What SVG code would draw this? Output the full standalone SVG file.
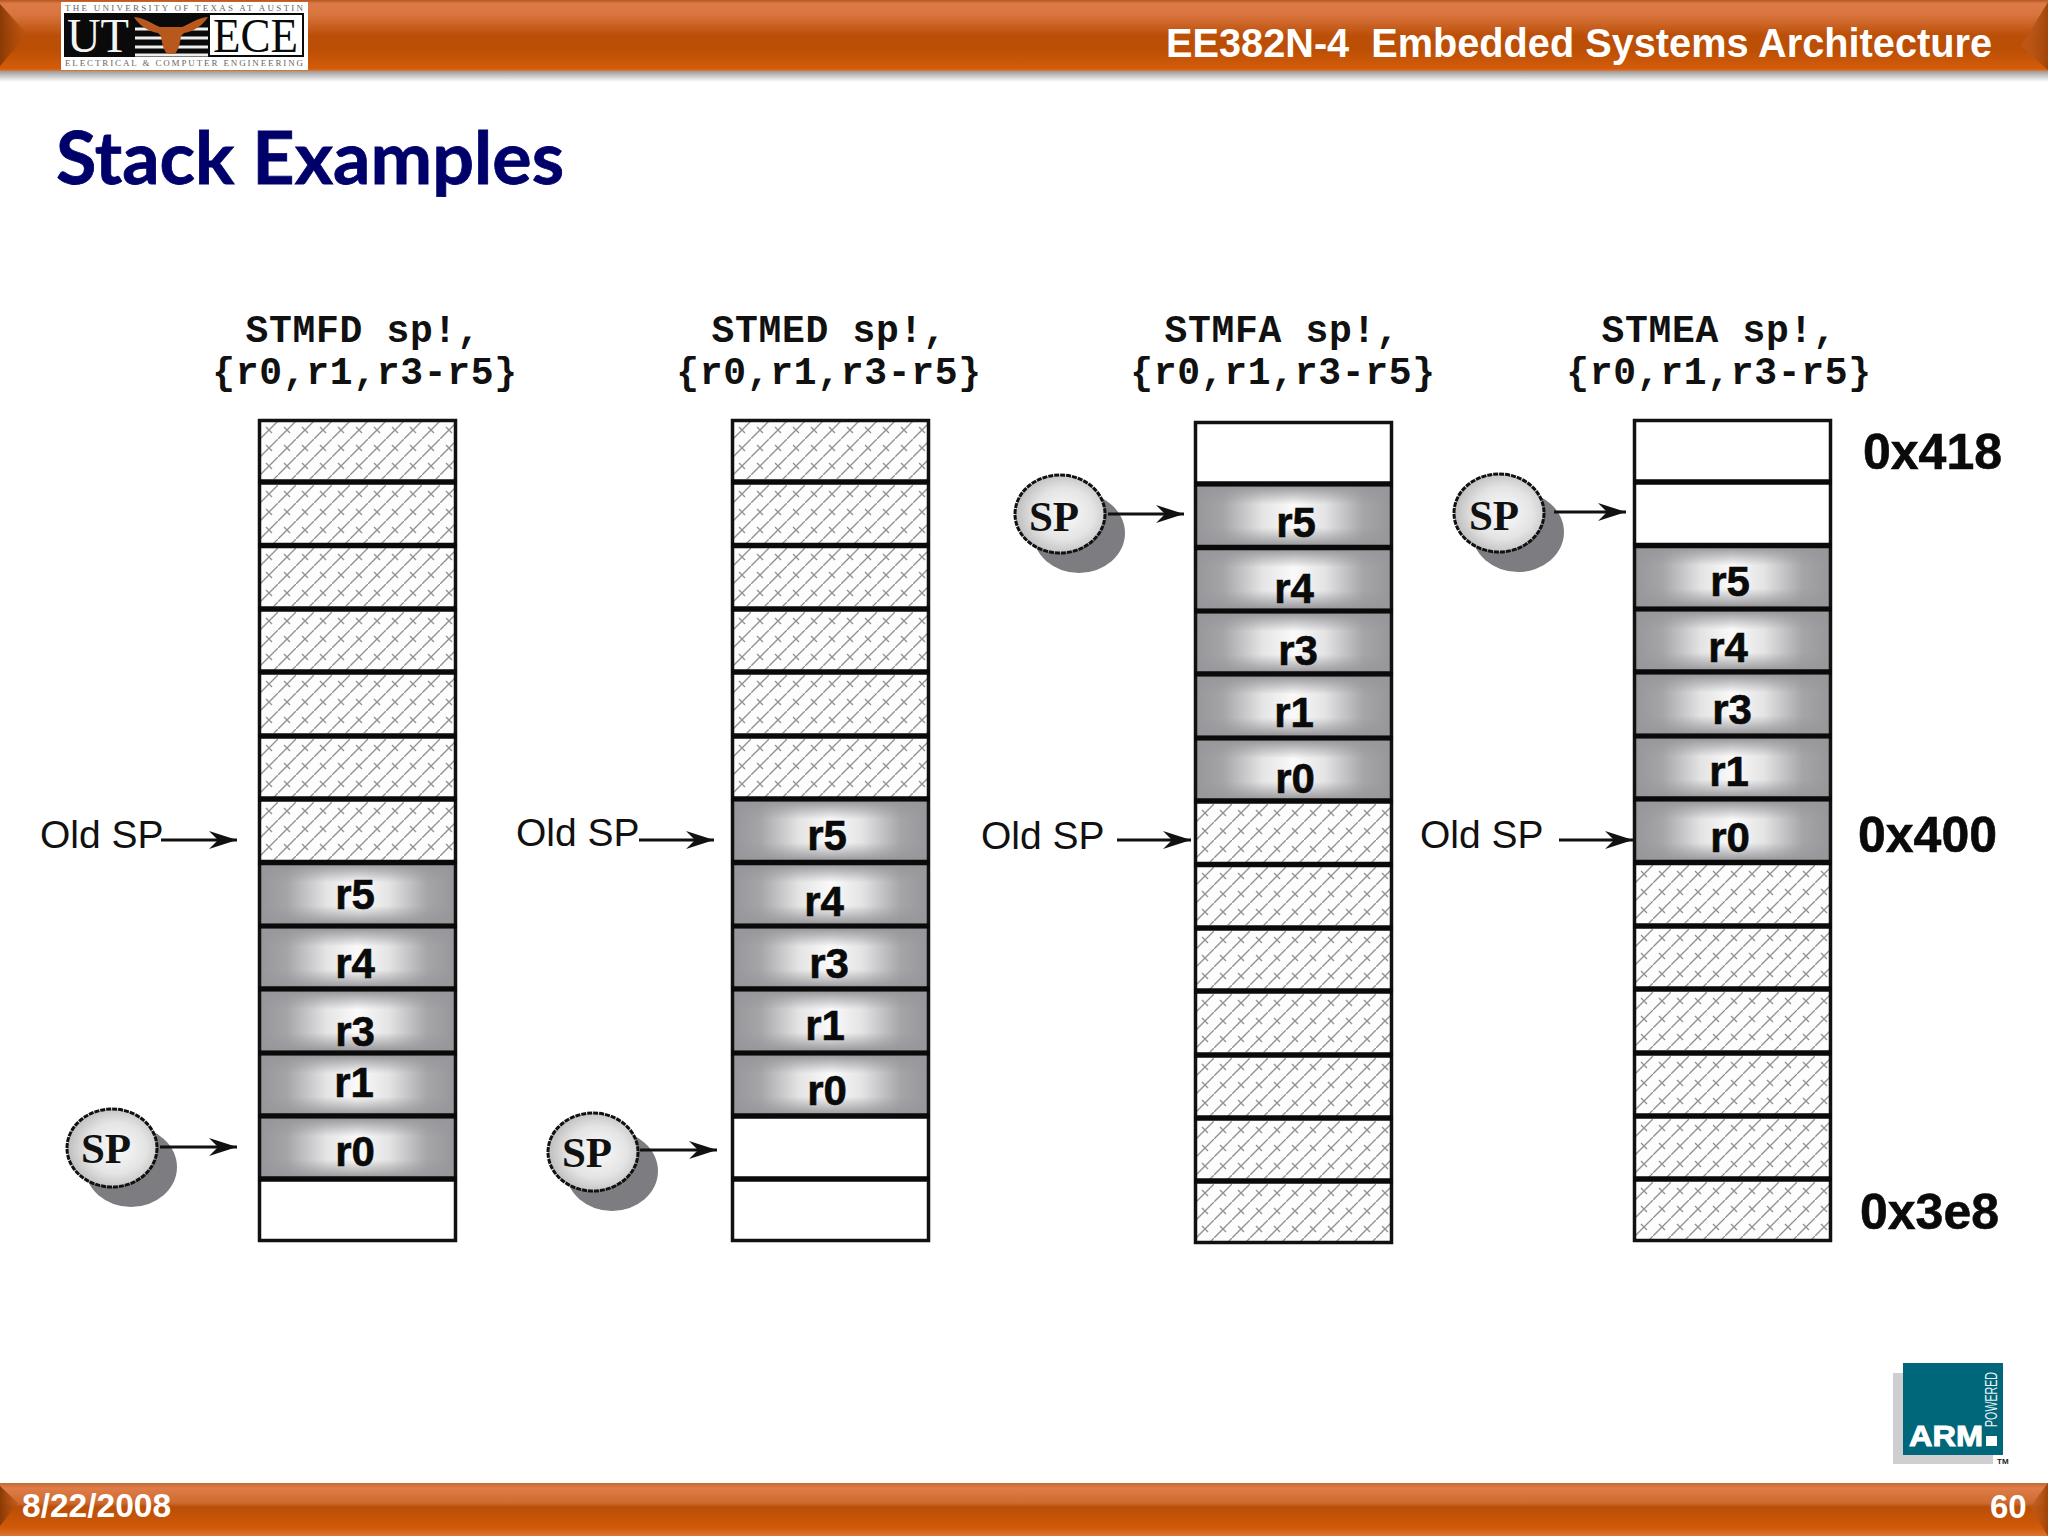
<svg xmlns="http://www.w3.org/2000/svg" width="2048" height="1536" viewBox="0 0 2048 1536">
<style>
.h{fill:url(#hatch)}
.frame{fill:none;stroke:#111;stroke-width:3.500}
.sep{stroke:#0a0a0a;stroke-width:5.5}
.reg{font:bold 42px "Liberation Sans",Arial,sans-serif;fill:#0a0a0a;text-anchor:middle;stroke:#0a0a0a;stroke-width:.6}
.old{font:39px "Liberation Sans",Arial,sans-serif;fill:#111}
.addr{font:bold 50px "Liberation Sans",Arial,sans-serif;fill:#0a0a0a;stroke:#0a0a0a;stroke-width:.6}
.cap{font:bold 38px "Liberation Mono","Courier New",monospace;fill:#111;text-anchor:middle;letter-spacing:.7px}
.sptxt{font:bold 43px "Liberation Serif","Times New Roman",serif;fill:#111;text-anchor:middle}
.con{fill:none;stroke:#111;stroke-width:3;marker-end:url(#arr)}
.spe{fill:url(#ball);stroke:#111;stroke-width:3;stroke-dasharray:5 1}
.shd{fill:#7c7c81}
.bar{font-family:"Liberation Sans",Arial,sans-serif;font-weight:bold;fill:#fff}
.tiny{font-family:"Liberation Serif","Times New Roman",serif;font-size:9px;fill:#666}
.big{font-family:"Liberation Serif","Times New Roman",serif;font-size:48px}
</style>
<defs>
<pattern id="hatch" patternUnits="userSpaceOnUse" width="18" height="18">
<rect width="18" height="18" fill="#fdfdfd"/>
<path d="M0 18L18 0M6 6L12 12" stroke="#929292" stroke-width="1.4" fill="none"/>
</pattern>
<linearGradient id="hg"><stop offset="0" stop-color="#97979b"/><stop offset=".14" stop-color="#a5a5a8"/><stop offset=".34" stop-color="#e4e4e5"/><stop offset=".5" stop-color="#fafafa"/><stop offset=".66" stop-color="#e4e4e5"/><stop offset=".86" stop-color="#a5a5a8"/><stop offset="1" stop-color="#97979b"/></linearGradient>
<linearGradient id="vg" x2="0" y2="1"><stop offset="0" stop-color="#97979b" stop-opacity=".95"/><stop offset=".3" stop-color="#97979b" stop-opacity="0"/><stop offset=".7" stop-color="#97979b" stop-opacity="0"/><stop offset="1" stop-color="#97979b" stop-opacity=".95"/></linearGradient>
<radialGradient id="ball" cx=".55" cy=".5" r=".55"><stop offset="0" stop-color="#fafafa"/><stop offset=".6" stop-color="#e4e4e4"/><stop offset="1" stop-color="#bdbdbd"/></radialGradient>
<linearGradient id="topbar" x2="0" y2="1"><stop offset="0" stop-color="#b5561f"/><stop offset=".05" stop-color="#dc7a47"/><stop offset=".2" stop-color="#d9753f"/><stop offset=".5" stop-color="#bb4f08"/><stop offset=".7" stop-color="#bb4f05"/><stop offset=".97" stop-color="#d45c0a"/><stop offset="1" stop-color="#e07a3a"/></linearGradient>
<linearGradient id="botbar" x2="0" y2="1"><stop offset="0" stop-color="#c76a38"/><stop offset=".1" stop-color="#df7c47"/><stop offset=".38" stop-color="#cc6a30"/><stop offset=".45" stop-color="#ba4e06"/><stop offset=".85" stop-color="#d05a08"/><stop offset="1" stop-color="#db7434"/></linearGradient>
<linearGradient id="shadow" x2="0" y2="1"><stop offset="0" stop-color="#9a9a9a"/><stop offset="1" stop-color="#fff"/></linearGradient>
<linearGradient id="corL"><stop offset="0" stop-color="#8a3905"/><stop offset="1" stop-color="#bd5410" stop-opacity=".6"/></linearGradient>
<linearGradient id="corR" x1="1" x2="0"><stop offset="0" stop-color="#a04408"/><stop offset="1" stop-color="#c46024" stop-opacity=".5"/></linearGradient>
<marker id="arr" markerUnits="userSpaceOnUse" markerWidth="30" markerHeight="20" refX="28" refY="10" orient="auto"><path d="M0 1L28 10L0 19L9 10Z" fill="#111"/></marker>
<g id="r"><rect width="195" height="58" fill="url(#hg)"/><rect width="195" height="58" fill="url(#vg)"/></g>
<rect id="x" class="h" width="195" height="58"/>
<g id="seps"><rect class="frame" x="259.500" y="420.500" width="196" height="820"/>
<path class="sep" d="M258 482H457M258 545.5H457M258 609H457M258 672H457M258 736H457M258 799H457M258 862.5H457M258 926H457M258 989H457M258 1053H457M258 1116H457M258 1179H457"/></g>
</defs>
<rect width="2048" height="1536" fill="#fff"/>

<g id="header">
<rect y="71" width="2048" height="11" fill="url(#shadow)"/>
<rect width="2048" height="71" fill="url(#topbar)"/>
<path d="M0 4L27 34L0 66Z" fill="url(#corL)"/>
<path d="M2048 2L2021 46L2048 70Z" fill="url(#corR)"/>
<text class="bar" x="1166" y="57" font-size="40" textLength="826" lengthAdjust="spacingAndGlyphs" style="white-space:pre" xml:space="preserve">EE382N-4  Embedded Systems Architecture</text>
</g>

<g id="logo">
<rect x="61" y="2" width="247" height="68" fill="#fff"/>
<rect x="64" y="13" width="240" height="44" fill="#0a0a0a"/>
<rect x="210" y="15" width="92" height="40" fill="#fff"/>
<path d="M135 29H208M135 38H208M135 47H208M135 55H208" stroke="#eee" stroke-width="3"/>
<path d="M134 17C145 18 152 24 160 27L182 27C190 24 197 18 208 17C204 24 194 32 184 33L181 36C180 44 178 52 174 54L168 54C164 52 162 44 161 36L158 33C148 32 138 24 134 17Z" fill="#b8581c"/>
<text class="big" x="67" y="52" fill="#f4f4f4" textLength="62" lengthAdjust="spacingAndGlyphs">UT</text>
<text class="big" x="213" y="52" fill="#0a0a0a" textLength="85" lengthAdjust="spacingAndGlyphs">ECE</text>
<text class="tiny" x="65" y="10.500" textLength="238">THE UNIVERSITY OF TEXAS AT AUSTIN</text>
<text class="tiny" x="65" y="66" textLength="238">ELECTRICAL &amp; COMPUTER ENGINEERING</text>
</g>

<text id="title" x="56" y="184" font-family="Lato,'Noto Sans',sans-serif" font-weight="700" font-size="72" fill="#00006b" stroke="#00006b" stroke-width=".8" textLength="508" lengthAdjust="spacingAndGlyphs">Stack Examples</text>

<g id="col1">
<g><use href="#x" x="260" y="421"/><use href="#x" x="260" y="485"/><use href="#x" x="260" y="548"/><use href="#x" x="260" y="612"/><use href="#x" x="260" y="675"/><use href="#x" x="260" y="739"/><use href="#x" x="260" y="802"/><use href="#r" x="260" y="865"/><use href="#r" x="260" y="929"/><use href="#r" x="260" y="992"/><use href="#r" x="260" y="1056"/><use href="#r" x="260" y="1119"/><use href="#seps"/></g>
<text class="cap" x="363" y="342">STMFD sp!,</text><text class="cap" x="365" y="384">{r0,r1,r3-r5}</text>
<text class="reg" x="355" y="909">r5</text><text class="reg" x="355" y="978">r4</text><text class="reg" x="355" y="1046">r3</text><text class="reg" x="354" y="1097">r1</text><text class="reg" x="355" y="1166">r0</text>
</g>

<g id="col2">
<g transform="translate(473 0)"><use href="#x" x="260" y="421"/><use href="#x" x="260" y="485"/><use href="#x" x="260" y="548"/><use href="#x" x="260" y="612"/><use href="#x" x="260" y="675"/><use href="#x" x="260" y="739"/><use href="#r" x="260" y="802"/><use href="#r" x="260" y="865"/><use href="#r" x="260" y="929"/><use href="#r" x="260" y="992"/><use href="#r" x="260" y="1056"/><use href="#seps"/></g>
<text class="cap" x="829" y="342">STMED sp!,</text><text class="cap" x="829" y="384">{r0,r1,r3-r5}</text>
<text class="reg" x="827" y="850">r5</text><text class="reg" x="824" y="916">r4</text><text class="reg" x="829" y="978">r3</text><text class="reg" x="825" y="1040">r1</text><text class="reg" x="827" y="1105">r0</text>
</g>

<g id="col3">
<g transform="translate(936 2)"><use href="#r" x="260" y="485"/><use href="#r" x="260" y="548"/><use href="#r" x="260" y="612"/><use href="#r" x="260" y="675"/><use href="#r" x="260" y="739"/><use href="#x" x="260" y="802"/><use href="#x" x="260" y="865"/><use href="#x" x="260" y="929"/><use href="#x" x="260" y="992"/><use href="#x" x="260" y="1056"/><use href="#x" x="260" y="1119"/><use href="#x" x="260" y="1182"/><use href="#seps"/></g>
<text class="cap" x="1282" y="342">STMFA sp!,</text><text class="cap" x="1283" y="384">{r0,r1,r3-r5}</text>
<text class="reg" x="1296" y="537">r5</text><text class="reg" x="1294" y="603">r4</text><text class="reg" x="1298" y="665">r3</text><text class="reg" x="1294" y="727">r1</text><text class="reg" x="1295" y="793">r0</text>
</g>

<g id="col4">
<g transform="translate(1375 0)"><use href="#r" x="260" y="548"/><use href="#r" x="260" y="612"/><use href="#r" x="260" y="675"/><use href="#r" x="260" y="739"/><use href="#r" x="260" y="802"/><use href="#x" x="260" y="865"/><use href="#x" x="260" y="929"/><use href="#x" x="260" y="992"/><use href="#x" x="260" y="1056"/><use href="#x" x="260" y="1119"/><use href="#x" x="260" y="1182"/><use href="#seps"/></g>
<text class="cap" x="1719" y="342">STMEA sp!,</text><text class="cap" x="1719" y="384">{r0,r1,r3-r5}</text>
<text class="reg" x="1730" y="596">r5</text><text class="reg" x="1728" y="662">r4</text><text class="reg" x="1732" y="724">r3</text><text class="reg" x="1729" y="786">r1</text><text class="reg" x="1730" y="852">r0</text>
</g>

<g id="addresses">
<text class="addr" x="1863" y="469">0x418</text><text class="addr" x="1858" y="852">0x400</text><text class="addr" x="1860" y="1229">0x3e8</text>
</g>

<g id="oldsp1"><text class="old" x="40" y="848">Old SP</text></g>
<g id="oldsp2"><text class="old" x="516" y="846">Old SP</text></g>
<g id="oldsp3"><text class="old" x="981" y="849">Old SP</text></g>
<g id="oldsp4"><text class="old" x="1420" y="848">Old SP</text></g>

<g id="sp1"><ellipse class="shd" cx="131" cy="1167" rx="46" ry="40"/><ellipse class="spe" cx="112" cy="1148" rx="45" ry="39"/><text class="sptxt" x="106" y="1163">SP</text></g>
<g id="sp2"><ellipse class="shd" cx="612" cy="1171" rx="46" ry="40"/><ellipse class="spe" cx="593" cy="1152" rx="45" ry="39"/><text class="sptxt" x="587" y="1167">SP</text></g>
<g id="sp3"><ellipse class="shd" cx="1079" cy="533" rx="46" ry="40"/><ellipse class="spe" cx="1060" cy="514" rx="45" ry="39"/><text class="sptxt" x="1054" y="531">SP</text></g>
<g id="sp4"><ellipse class="shd" cx="1518" cy="532" rx="46" ry="40"/><ellipse class="spe" cx="1499" cy="513" rx="45" ry="39"/><text class="sptxt" x="1494" y="530">SP</text></g>

<g id="connectors">
<path class="con" d="M161 840H237"/>
<path class="con" d="M160 1147H237"/>
<path class="con" d="M639 840H714"/>
<path class="con" d="M640 1150H717"/>
<path class="con" d="M1108 514H1184"/>
<path class="con" d="M1117 840H1191"/>
<path class="con" d="M1554 512H1626"/>
<path class="con" d="M1559 840H1633"/>
</g>

<g id="arm">
<rect x="1893" y="1373" width="100" height="91" fill="#cfcfd2"/>
<rect x="1903" y="1363" width="100" height="92" fill="#00667a"/>
<text x="1909" y="1446" font-family="'Liberation Sans',Arial,sans-serif" font-weight="bold" font-size="30" fill="#fff" stroke="#fff" stroke-width="1" textLength="74" lengthAdjust="spacingAndGlyphs">ARM</text>
<rect x="1986" y="1436" width="11" height="10" fill="#fff"/>
<text transform="translate(1997 1427) rotate(-90)" font-family="'Liberation Sans',Arial,sans-serif" font-size="16" fill="#e8f2f4" textLength="55" lengthAdjust="spacingAndGlyphs">POWERED</text>
<text x="1997" y="1464" font-family="'Liberation Sans',Arial,sans-serif" font-weight="bold" font-size="8" fill="#222">TM</text>
</g>

<g id="footer">
<rect y="1483" width="2048" height="53" fill="url(#botbar)"/>
<path d="M0 1486L18 1503L0 1526Z" fill="url(#corL)"/>
<path d="M2048 1483L2030 1507L2048 1536Z" fill="url(#corR)"/>
<text class="bar" x="22" y="1517" font-size="33.500">8/22/2008</text>
<text class="bar" x="1990" y="1518" font-size="33">60</text>
</g>
</svg>
